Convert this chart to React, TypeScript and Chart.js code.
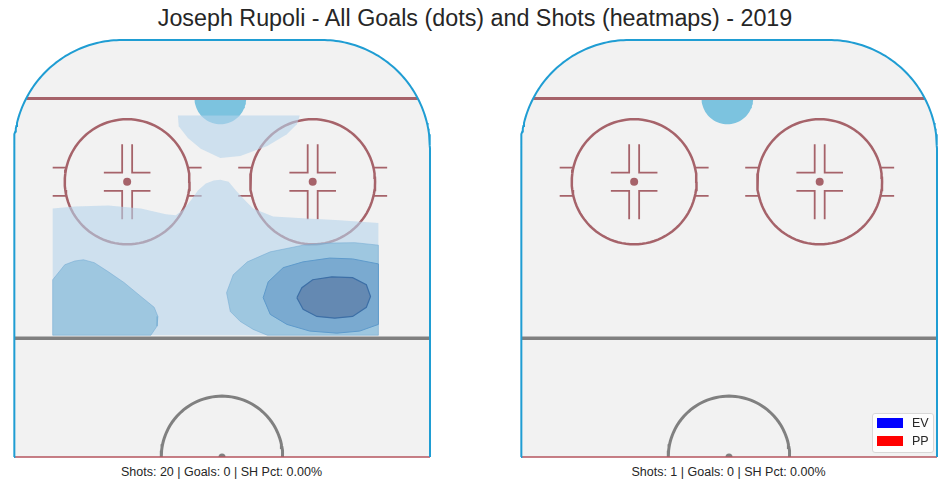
import React, { useEffect, useRef } from 'react';
import { Chart, ChartConfiguration, registerables } from 'chart.js';

Chart.register(...registerables);

type Pt = [number, number];

// ---- figure data ----
const playerName = 'Joseph Rupoli';
const seasonLabel = '2019';
const panelShots = [20, 1];
const panelGoals = [0, 0];
const strengthLabels = ['EV', 'PP'];

// shot density bands (left panel only), rink feet: x across the ice, y up from centre line
const bandLightCrease: Pt[] = [
  [-10.6, 81.9], [-10.4, 79.3], [-8.2, 76.5], [-5.1, 73.9], [-0.4, 71.7],
  [4.4, 72.2], [10.9, 74.6], [15.6, 77.4], [18.0, 79.8], [18.7, 81.9],
];
const bandLightMain: Pt[] = [
  [-40.7, 59.6], [-35.4, 60.1], [-27.3, 60.3], [-19.5, 59.6], [-13.5, 58.2],
  [-11.1, 58.0], [-9.2, 59.4], [-7.5, 61.5], [-5.8, 63.9], [-3.9, 65.6],
  [-2.0, 66.3], [-0.4, 66.5], [1.6, 66.0], [3.5, 63.7], [5.8, 61.3],
  [7.5, 59.6], [12.3, 57.7], [20.4, 57.2], [28.3, 56.8], [37.6, 56.1],
  [37.6, 29.2], [-40.7, 29.2],
];
const bandMidLeft: Pt[] = [
  [-40.7, 42.5], [-37.8, 46.1], [-35.4, 47.0], [-33.3, 47.3], [-30.7, 46.6],
  [-27.3, 44.4], [-23.5, 41.8], [-19.5, 38.5], [-16.3, 35.9], [-15.4, 33.7],
  [-15.6, 31.4], [-17.1, 29.2], [-40.7, 29.2],
];
const bandMidRight: Pt[] = [
  [37.6, 50.8], [31.9, 51.4], [25.9, 51.3], [19.5, 50.8], [11.6, 49.2],
  [6.1, 46.8], [2.7, 43.7], [1.1, 39.4], [2.0, 34.9], [4.4, 32.5],
  [7.5, 30.6], [10.9, 29.2], [37.6, 29.2],
];
const bandHigh: Pt[] = [
  [37.6, 46.3], [31.4, 47.5], [25.9, 47.7], [19.5, 46.8], [14.7, 45.4],
  [11.1, 42.0], [9.9, 38.2], [11.6, 34.2], [15.6, 31.8], [21.1, 30.2],
  [27.6, 29.7], [33.1, 30.2], [37.6, 31.8],
];
const bandPeak: Pt[] = [
  [18.0, 38.2], [19.2, 40.6], [21.8, 42.5], [26.4, 43.2], [31.4, 43.0],
  [34.7, 41.3], [35.7, 38.5], [34.7, 35.9], [31.4, 33.7], [27.1, 33.3],
  [22.8, 33.7], [19.5, 35.4],
];

// ---- rink geometry (feet) ----
const HALF_W = 50;
const LENGTH = 100;
const CORNER_R = 26;
const GOAL_LINE_Y = 86;
const BLUE_LINE_Y = 28.5;
const CREASE_X = -0.4;
const CREASE_R = 6.2;
const FACEOFF_XS = [-22.8, 21.8];
const FACEOFF_Y = 66;
const FACEOFF_R = 15;
const CENTER_R = 14.6;

const RED = '#a6636a';
const GREY = '#808080';
const BOARDS = '#1f9dd3';
const FONT = "'Liberation Sans', Arial, sans-serif";
const STRENGTH_COLORS = ['#0000ff', '#ff0000'];

const GAP = { x: NaN, y: NaN };
const toXY = (pts: Pt[], close = false) => {
  const out = pts.map(([x, y]) => ({ x, y }));
  return close ? [...out, out[0]] : out;
};

function arc(cx: number, cy: number, r: number, from: number, to: number, steps = 60) {
  const pts = [];
  for (let i = 0; i <= steps; i++) {
    const a = ((from + ((to - from) * i) / steps) * Math.PI) / 180;
    pts.push({ x: cx + r * Math.cos(a), y: cy + r * Math.sin(a) });
  }
  return pts;
}

const stroke = (data: any[], color: string, width: number, extra: any = {}) => ({
  data, showLine: true, pointRadius: 0, borderColor: color, borderWidth: width,
  fill: false, tension: 0, ...extra,
});
const area = (data: any[], color: string, border = 'transparent', borderWidth = 0) => ({
  data, showLine: true, pointRadius: 0, backgroundColor: color, borderColor: border,
  borderWidth, fill: 'shape', tension: 0,
});
const dots = (data: any[], color: string, radius: number, extra: any = {}) => ({
  data, showLine: false, pointRadius: radius, pointBackgroundColor: color,
  pointBorderWidth: 0, ...extra,
});

function rinkLayers() {
  const ccx = HALF_W - CORNER_R;
  const ccy = LENGTH - CORNER_R;
  const sides = [
    { x: -HALF_W, y: 0 },
    ...arc(-ccx, ccy, CORNER_R, 180, 90),
    ...arc(ccx, ccy, CORNER_R, 90, 0),
    { x: HALF_W, y: 0 },
  ];
  const goalHalf = ccx + Math.sqrt(CORNER_R ** 2 - (GOAL_LINE_Y - ccy) ** 2);

  const circles: any[] = [];
  const marks: any[] = [];
  FACEOFF_XS.forEach((fx) => {
    circles.push(...arc(fx, FACEOFF_Y, FACEOFF_R, 0, 360, 96), GAP);
    for (const sx of [-1, 1]) {
      for (const sy of [-1, 1]) {
        marks.push(
          { x: fx + sx * 14.6, y: FACEOFF_Y + sy * 3.4 },
          { x: fx + sx * 17.9, y: FACEOFF_Y + sy * 3.4 },
          GAP,
          { x: fx + sx * 1.2, y: FACEOFF_Y + sy * 9.0 },
          { x: fx + sx * 1.2, y: FACEOFF_Y + sy * 2.2 },
          { x: fx + sx * 5.6, y: FACEOFF_Y + sy * 2.2 },
          GAP,
        );
      }
    }
  });

  return [
    area(sides, '#f2f2f2'),
    area(arc(CREASE_X, GOAL_LINE_Y, CREASE_R, 180, 360, 40), '#7cc3df'),
    stroke([{ x: -goalHalf, y: GOAL_LINE_Y }, { x: goalHalf, y: GOAL_LINE_Y }], RED, 3),
    stroke(circles, RED, 2.5),
    stroke(marks, RED, 1.8),
    dots(FACEOFF_XS.map((x) => ({ x, y: FACEOFF_Y })), RED, 4),
    stroke([{ x: -HALF_W, y: BLUE_LINE_Y }, { x: HALF_W, y: BLUE_LINE_Y }], GREY, 3.5),
    stroke(arc(0, 0, CENTER_R, 0, 180, 60), GREY, 3),
    dots([{ x: 0, y: 0 }], GREY, 3.5, { clip: 0 }),
    stroke([{ x: -HALF_W, y: 0 }, { x: HALF_W, y: 0 }], '#b5545e', 1.5, { clip: false }),
    stroke(sides, BOARDS, 2, { clip: false }),
  ];
}

function heatLayers() {
  return [
    area(toXY(bandLightCrease), 'rgba(182,212,235,0.6)'),
    area(toXY(bandLightMain), 'rgba(182,212,235,0.6)'),
    area(toXY(bandMidLeft, true), 'rgba(126,181,215,0.6)', 'rgba(110,168,210,0.5)', 1),
    area(toXY(bandMidRight, true), 'rgba(126,181,215,0.6)', 'rgba(110,168,210,0.5)', 1),
    area(toXY(bandHigh, true), '#7aaad0', '#5e9acb', 1),
    area(toXY(bandPeak, true), '#6489b2', '#3d6fa6', 1.2),
  ];
}

function RinkPanel({ left, withHeat }: { left: number; withHeat: boolean }) {
  const canvasRef = useRef<HTMLCanvasElement>(null);

  useEffect(() => {
    if (!canvasRef.current) return;
    // built bottom-up, Chart.js paints dataset 0 last, so reverse
    const layers = [...rinkLayers(), ...(withHeat ? heatLayers() : [])].reverse();
    const config: ChartConfiguration = {
      type: 'line',
      data: { datasets: layers as any },
      options: {
        animation: false,
        responsive: true,
        maintainAspectRatio: false,
        events: [],
        layout: { padding: { left: 2, right: 3, top: 2, bottom: 2 } },
        plugins: {
          legend: { display: false },
          tooltip: { enabled: false },
        },
        scales: {
          x: { type: 'linear', min: -HALF_W, max: HALF_W, display: false },
          y: { type: 'linear', min: 0, max: LENGTH, display: false },
        },
      },
    };
    const chart = new Chart(canvasRef.current, config);
    return () => chart.destroy();
  }, [withHeat]);

  return (
    <div style={{ position: 'absolute', left, top: 36, width: 424, height: 425 }}>
      <canvas ref={canvasRef} />
    </div>
  );
}

const caption = (shots: number, goals: number) =>
  `Shots: ${shots} | Goals: ${goals} | SH Pct: ${(shots ? (goals / shots) * 100 : 0).toFixed(2)}%`;

export default function App() {
  const panelLefts = [10, 517];
  return (
    <div style={{ position: 'absolute', left: 0, top: 0, width: 950, height: 489, background: '#fff', fontFamily: FONT, color: '#262626', overflow: 'hidden' }}>
      <div style={{ position: 'absolute', left: 0, top: 5, width: 950, textAlign: 'center', fontSize: 23.3, lineHeight: '26px' }}>
        {`${playerName} - All Goals (dots) and Shots (heatmaps) - ${seasonLabel}`}
      </div>
      {panelLefts.map((l, i) => (
        <RinkPanel key={i} left={l} withHeat={i === 0} />
      ))}
      {panelLefts.map((l, i) => (
        <div key={'c' + i} style={{ position: 'absolute', left: l + 2, top: 465, width: 419, textAlign: 'center', fontSize: 12.5, lineHeight: '14px' }}>
          {caption(panelShots[i], panelGoals[i])}
        </div>
      ))}
      <div style={{ position: 'absolute', left: 872, top: 413, width: 62, height: 40, boxSizing: 'border-box', border: '1px solid #d8d8d8', borderRadius: 3, background: 'rgba(255,255,255,0.8)' }}>
        {strengthLabels.map((label, i) => (
          <React.Fragment key={label}>
            <div style={{ position: 'absolute', left: 4, top: 4 + i * 18, width: 26, height: 10, background: STRENGTH_COLORS[i] }} />
            <div style={{ position: 'absolute', left: 39, top: 2 + i * 17.5, fontSize: 12.5, lineHeight: '14px' }}>{label}</div>
          </React.Fragment>
        ))}
      </div>
    </div>
  );
}
